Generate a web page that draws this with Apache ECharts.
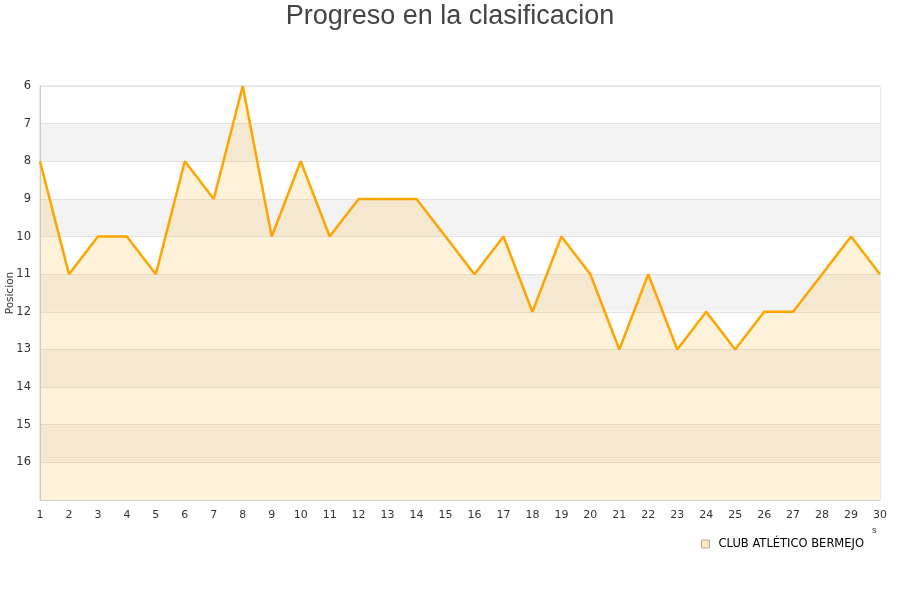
<!DOCTYPE html>
<html><head><meta charset="utf-8">
<script src="https://cdn.jsdelivr.net/npm/echarts@6/dist/echarts.min.js"></script>
<style>html,body{margin:0;padding:0;background:#fff}#c{width:900px;height:600px}</style>
</head><body><div id="c"></div>
<script>
const jornadas = ['1','2','3','4','5','6','7','8','9','10','11','12','13','14','15','16','17','18','19','20','21','22','23','24','25','26','27','28','29','30'];
const posiciones = [8,11,10,10,11,8,9,6,10,8,10,9,9,9,10,11,10,12,10,11,13,11,13,12,13,12,12,11,10,11];
const equipo = 'CLUB ATLÉTICO BERMEJO';
const titulo = 'Progreso en la clasificacion';
const ejeY = 'Posicion';

const chart = echarts.init(document.getElementById('c'));
chart.setOption({
  animation: false,
  textStyle: { fontFamily: 'DejaVu Sans' },
  title: { text: titulo, left: 'center', top: -2, textStyle: { fontFamily: 'Liberation Sans', fontSize: 27, fontWeight: 'normal', color: '#444' } },
  legend: {
    data: [{ name: equipo, icon: 'rect' }], right: 31, top: 533, itemWidth: 8, itemHeight: 8, itemGap: 6,
    textStyle: { fontSize: 11.5, color: '#000', fontFamily: 'DejaVu Sans', padding: [0, 0, 0, 4] },
    itemStyle: { borderColor: '#999', borderWidth: 0.8 }
  },
  grid: { left: 40, right: 20, top: 86, bottom: 100, containLabel: false, outerBoundsMode: 'none', show: true, borderColor: '#ddd', borderWidth: 1 },
  xAxis: {
    type: 'category', data: jornadas, boundaryGap: false,
    axisLine: { lineStyle: { color: '#ccc' } }, axisTick: { show: false },
    axisLabel: { color: '#333', fontSize: 11, margin: 10, interval: 0 },
    splitLine: { show: false }
  },
  yAxis: {
    type: 'value', inverse: true, min: 6, max: 17, interval: 1,
    name: ejeY, nameLocation: 'middle', nameGap: 24, nameMoveOverlap: false, nameTextStyle: { fontSize: 10.5, color: '#333' },
    axisLine: { show: true, lineStyle: { color: '#ccc' } }, axisTick: { show: false },
    axisLabel: { color: '#333', fontSize: 11.5, margin: 9, formatter: v => v === 17 ? '' : v },
    splitLine: { show: true, lineStyle: { color: '#e2e2e2' } },
    splitArea: { show: true, areaStyle: { color: ['#ffffff', '#f3f3f3'] } }
  },
  series: [{
    name: equipo, type: 'line', data: posiciones, showSymbol: false, symbol: 'none',
    lineStyle: { color: '#ffa500', width: 2.5 },
    itemStyle: { color: '#ffe7bd' },
    areaStyle: { origin: 'end', color: 'rgba(255,191,64,0.28)' }
  }],
  graphic: [{ type: 'text', left: 872, top: 526, style: { text: 's', fontSize: 9, fill: '#333' } }]
});
</script></body></html>
